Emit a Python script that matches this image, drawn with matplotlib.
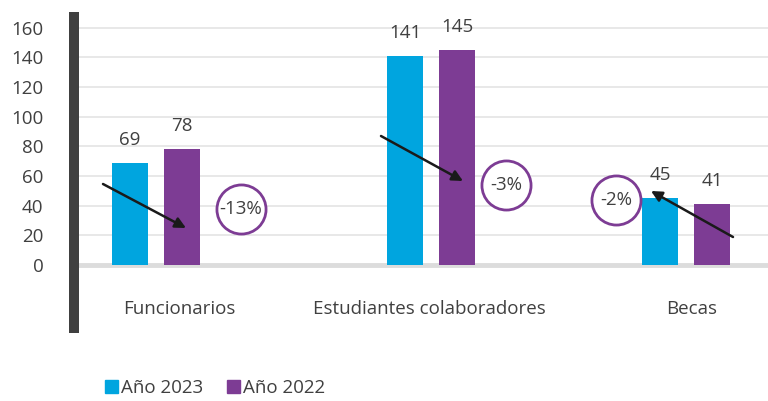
import matplotlib.pyplot as plt
from matplotlib.patches import Patch

plt.rcParams['font.family'] = ['Open Sans', 'DejaVu Sans']

# datos
categorias = ['Funcionarios', 'Estudiantes colaboradores', 'Becas']
anio_2023 = [69, 141, 45]
anio_2022 = [78, 145, 41]
variacion = ['-13%', '-3%', '-2%']

AZUL = '#00A5DF'
MORADO = '#7D3C94'
TEXTO = '#404040'

# posiciones de los grupos y de las etiquetas
grupo_x = [0, 1.038, 2.0]
etiqueta_x = [0.087, 1.030, 2.023]
ancho = 0.136
desp = 0.098
px = 1 / 265          # unidades x por pixel
py = 1 / 1.483        # unidades y por pixel
FS = 13.5

fig = plt.figure(figsize=(7.68, 4.01), dpi=100)
ax = fig.add_axes([74 / 768, (401 - 333) / 401, (768 - 74) / 768, 321 / 401])
ax.set_xlim((74 - 156) * px, (768 - 156) * px)
ax.set_ylim(-68 * py, 253 * py)

for y in range(20, 161, 20):
    ax.axhline(y, color='#e4e4e4', lw=1.2, zorder=0)
ax.axhline(0, color='#dcdcdc', lw=3.5, zorder=1)

for i, x in enumerate(grupo_x):
    ax.bar(x - desp, anio_2023[i], ancho, color=AZUL, zorder=2)
    ax.bar(x + desp, anio_2022[i], ancho, color=MORADO, zorder=2)
    ax.text(x - desp, anio_2023[i] + 23 * py, str(anio_2023[i]), ha='center', va='center',
            fontsize=FS, color=TEXTO)
    ax.text(x + desp, anio_2022[i] + 23 * py, str(anio_2022[i]), ha='center', va='center',
            fontsize=FS, color=TEXTO)
    ax.text(etiqueta_x[i], -44 * py, categorias[i], ha='center', va='center',
            fontsize=FS, color=TEXTO)

# flechas y círculos con la variación
flechas = [((103, 184), (186, 228)), ((381, 136), (463, 181)), ((733, 237), (651, 191))]
circulos = [(241, 209), (506, 185), (616, 200)]
for (p0, p1), c, txt in zip(flechas, circulos, variacion):
    ax.annotate('', xy=((p1[0] - 156) * px, (265 - p1[1]) * py),
                xytext=((p0[0] - 156) * px, (265 - p0[1]) * py),
                arrowprops=dict(arrowstyle='-|>', color='#1a1a1a', lw=1.8,
                                mutation_scale=16, shrinkA=0, shrinkB=0), zorder=4)
    cx, cy = (c[0] - 156) * px, (265 - c[1]) * py
    ax.scatter([cx], [cy], s=1250, facecolor='white', edgecolor=MORADO, lw=2, zorder=3)
    ax.text(cx, cy, txt, ha='center', va='center', fontsize=FS, color=TEXTO, zorder=5)

ax.set_yticks(range(0, 161, 20))
ax.set_xticks([])
ax.tick_params(axis='y', length=0, pad=22, labelsize=FS, labelcolor=TEXTO)
for s in ['top', 'right', 'bottom']:
    ax.spines[s].set_visible(False)
ax.spines['left'].set_color('#404040')
ax.spines['left'].set_linewidth(7.2)
ax.spines['left'].set_capstyle('butt')

fig.legend(handles=[Patch(color=AZUL, label='Año 2023'), Patch(color=MORADO, label='Año 2022')],
           loc='center left', bbox_to_anchor=(88 / 768, 13 / 401), ncol=2, frameon=False,
           fontsize=FS, handlelength=0.7, handleheight=0.7, handletextpad=0.15,
           columnspacing=1.3, labelcolor=TEXTO)

fig.savefig('out.png', dpi=100)
